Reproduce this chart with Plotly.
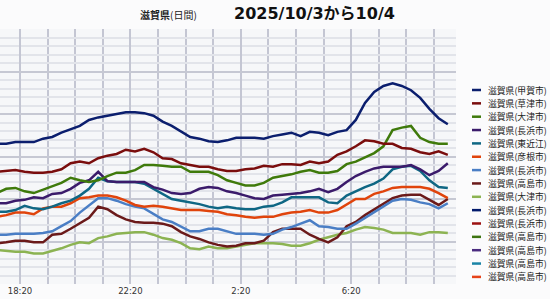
import plotly.graph_objects as go
import pandas as pd

# time axis: every 20 minutes, 2025/10/3 17:30 -> 10/4 9:50
times = pd.date_range("2025-10-03 17:30", periods=50, freq="20min")

legend_names = [
    "滋賀県(甲賀市)", "滋賀県(草津市)", "滋賀県(大津市)", "滋賀県(長浜市)",
    "滋賀県(東近江)", "滋賀県(彦根市)", "滋賀県(長浜市)", "滋賀県(高島市)",
    "滋賀県(大津市)", "滋賀県(長浜市)", "滋賀県(長浜市)", "滋賀県(高島市)",
    "滋賀県(高島市)", "滋賀県(高島市)", "滋賀県(高島市)",
]
legend_colors = [
    "#0b1e6e", "#7a0d0d", "#3f7a0b", "#3b1b6b", "#0f6784", "#e0440c",
    "#4a7ec5", "#6b1a1a", "#8cb352", "#021a6c", "#9c1111", "#3e7411",
    "#4b2c80", "#1a84a6", "#e6431a",
]

koka = [16.5,16.5,16.7,16.7,16.7,17.1,17.3,17.8,18.2,18.6,19.3,19.6,19.8,20.0,20.2,20.2,20.1,19.8,19.1,18.6,
        17.9,17.3,17.1,16.8,16.7,16.9,17.2,17.2,17.2,17.1,17.4,17.6,17.8,17.4,17.9,17.8,17.5,17.9,18.1,19.3,
        21.3,22.6,23.3,23.6,23.3,22.8,21.9,20.6,19.5,18.8]
kusatsu = [13.2,13.3,13.4,13.2,13.1,13.1,13.2,13.5,14.2,14.4,14.2,14.8,15.1,15.3,15.8,15.6,15.9,15.5,14.8,14.7,
           14.2,14.0,13.8,13.8,13.5,13.3,13.3,13.5,13.6,13.9,13.8,14.1,14.1,14.0,14.4,14.2,14.4,15.2,15.6,16.2,
           16.9,16.8,16.5,16.5,16.0,15.9,15.5,15.3,15.6,15.2]
otsu = [10.7,11.2,11.3,10.9,10.7,11.1,11.5,11.9,12.5,12.2,12.0,12.2,12.7,13.1,13.1,13.4,14.0,14.0,13.9,13.8,
        13.8,13.2,13.2,13.2,12.8,12.2,11.9,11.6,11.6,11.9,12.5,12.7,12.9,13.2,13.4,13.1,13.1,13.3,14.1,14.4,
        14.9,15.4,16.2,18.1,18.4,18.6,17.2,16.7,16.5,16.5]
nagahama = [9.5,9.5,9.8,9.9,10.2,10.1,10.6,10.7,11.2,11.9,12.2,13.2,12.1,12.0,12.0,12.0,12.0,11.4,11.1,10.7,
            10.6,10.7,11.2,11.4,11.3,10.9,10.7,10.4,10.1,10.0,10.4,10.5,10.6,10.7,10.9,11.2,10.8,11.2,12.0,12.7,
            13.2,13.6,13.8,13.8,13.8,14.0,13.5,12.8,13.3,14.2]
higashiomi = [8.5,8.5,8.7,9.2,8.9,8.8,9.1,9.5,9.8,10.4,11.2,12.5,12.1,12.0,12.0,12.0,11.8,11.2,10.6,10.0,
              9.8,9.6,9.4,9.1,8.9,9.1,8.9,8.8,8.8,9.1,9.2,9.6,10.2,10.2,10.2,10.2,9.6,9.5,10.4,10.9,
              11.4,11.8,12.4,13.5,13.8,13.9,13.3,12.2,11.4,11.3]
hikone = [7.9,8.1,8.4,8.4,8.2,8.9,9.1,9.1,9.5,10.1,10.2,10.4,10.4,10.2,9.8,9.3,9.1,9.2,9.1,8.9,
          8.7,8.7,8.7,8.6,8.5,8.2,8.1,7.9,7.8,7.9,7.9,8.2,8.4,8.5,8.7,8.4,8.4,8.7,9.4,10.0,
          10.0,10.6,10.9,11.3,11.4,11.4,11.4,11.2,10.7,10.1]
nagahama_b = [5.8,5.8,5.9,5.9,5.9,6.0,6.2,6.8,7.4,8.4,9.2,10.1,10.1,9.8,9.4,9.1,8.9,8.2,7.6,7.3,
              6.7,6.2,6.2,6.5,6.5,6.2,5.9,5.9,5.9,5.8,5.9,6.4,6.7,7.1,7.5,6.8,6.7,6.5,6.5,7.1,
              7.8,8.4,9.1,9.8,10.0,9.9,9.6,9.4,8.9,9.5]
takashima = [4.8,4.9,5.1,5.1,4.9,4.9,5.8,5.9,6.5,7.2,7.8,9.1,8.8,8.1,7.6,7.3,7.2,7.2,7.1,6.8,
             6.1,5.6,5.3,4.9,4.6,4.4,4.5,4.8,4.8,5.1,6.1,6.5,6.5,6.5,5.8,5.3,4.9,5.5,6.8,7.3,
             8.1,8.8,9.5,10.1,10.4,10.5,10.5,9.9,9.3,10.0]
otsu_b = [4.0,3.9,3.8,3.8,3.6,3.6,3.9,4.2,4.6,4.9,4.8,5.4,5.6,5.9,6.0,6.1,6.1,5.8,5.4,5.2,
          4.8,4.2,4.1,4.4,4.2,4.2,4.4,4.6,4.8,4.8,4.8,4.7,4.5,4.5,4.8,5.2,5.5,5.8,6.0,6.4,
          6.7,6.6,6.4,6.0,6.0,6.0,5.8,6.1,6.1,6.0]

series = [koka, kusatsu, otsu, nagahama, higashiomi, hikone, nagahama_b, takashima, otsu_b]

fig = go.Figure()
for i in reversed(range(len(series))):
    fig.add_trace(go.Scatter(
        x=times, y=series[i], mode="lines", name=legend_names[i],
        line=dict(color=legend_colors[i], width=2.5), hoverinfo="skip"))

W, H = 550, 299
L, R, T, B = 0, 94, 29, 15
pw, ph = W - L - R, H - T - B

def px_x(x):
    return (x - L) / pw

def px_y(y):
    return (H - B - y) / ph

annotations = [
    dict(text="<b>滋賀県</b>(日間)", x=px_x(168), y=px_y(15), xref="paper", yref="paper",
         xanchor="center", yanchor="middle", showarrow=False,
         font=dict(family="Noto Sans CJK JP", size=10, color="#222")),
    dict(text="<b>2025/10/3から10/4</b>", x=px_x(314), y=px_y(13), xref="paper", yref="paper",
         xanchor="center", yanchor="middle", showarrow=False,
         font=dict(family="DejaVu Sans, Noto Sans CJK JP", size=16, color="#111")),
]
shapes = []
for i, (nm, col) in enumerate(zip(legend_names, legend_colors)):
    yy = 90 + i * 13.35
    shapes.append(dict(type="line", xref="paper", yref="paper",
                       x0=px_x(472), x1=px_x(481), y0=px_y(yy), y1=px_y(yy),
                       line=dict(color=col, width=2.5)))
    annotations.append(dict(text=nm, x=px_x(486), y=px_y(yy), xref="paper", yref="paper",
                            xanchor="left", yanchor="middle", showarrow=False,
                            font=dict(family="Noto Sans CJK JP", size=8.8, color="#222")))

fig.update_layout(
    width=W, height=H, margin=dict(l=L, r=R, t=T, b=B),
    paper_bgcolor="#fbfbfc", plot_bgcolor="#f6f7f9",
    showlegend=False, annotations=annotations, shapes=shapes,
    xaxis=dict(type="date", range=["2025-10-03 17:36:30", "2025-10-04 10:07:50"],
               tick0="2025-10-03 18:20", dtick=4 * 3600000, tickformat="%-H:%M",
               showgrid=True, gridcolor="#c4c6d3", gridwidth=1.5,
               minor=dict(tick0="2025-10-03 18:20", dtick=3600000, showgrid=True,
                          gridcolor="#c4c6d3", gridwidth=1.5),
               zeroline=False, showline=False, ticks="",
               tickfont=dict(family="DejaVu Sans", size=8.5, color="#333")),
    yaxis=dict(range=[0, 30], dtick=5, showticklabels=False,
               showgrid=True, gridcolor="#c6c8d3", gridwidth=1.5,
               minor=dict(dtick=1, showgrid=True, gridcolor="#e2e4ea", gridwidth=1.5),
               zeroline=False, showline=False, ticks=""),
)

fig.write_html("out.html")
